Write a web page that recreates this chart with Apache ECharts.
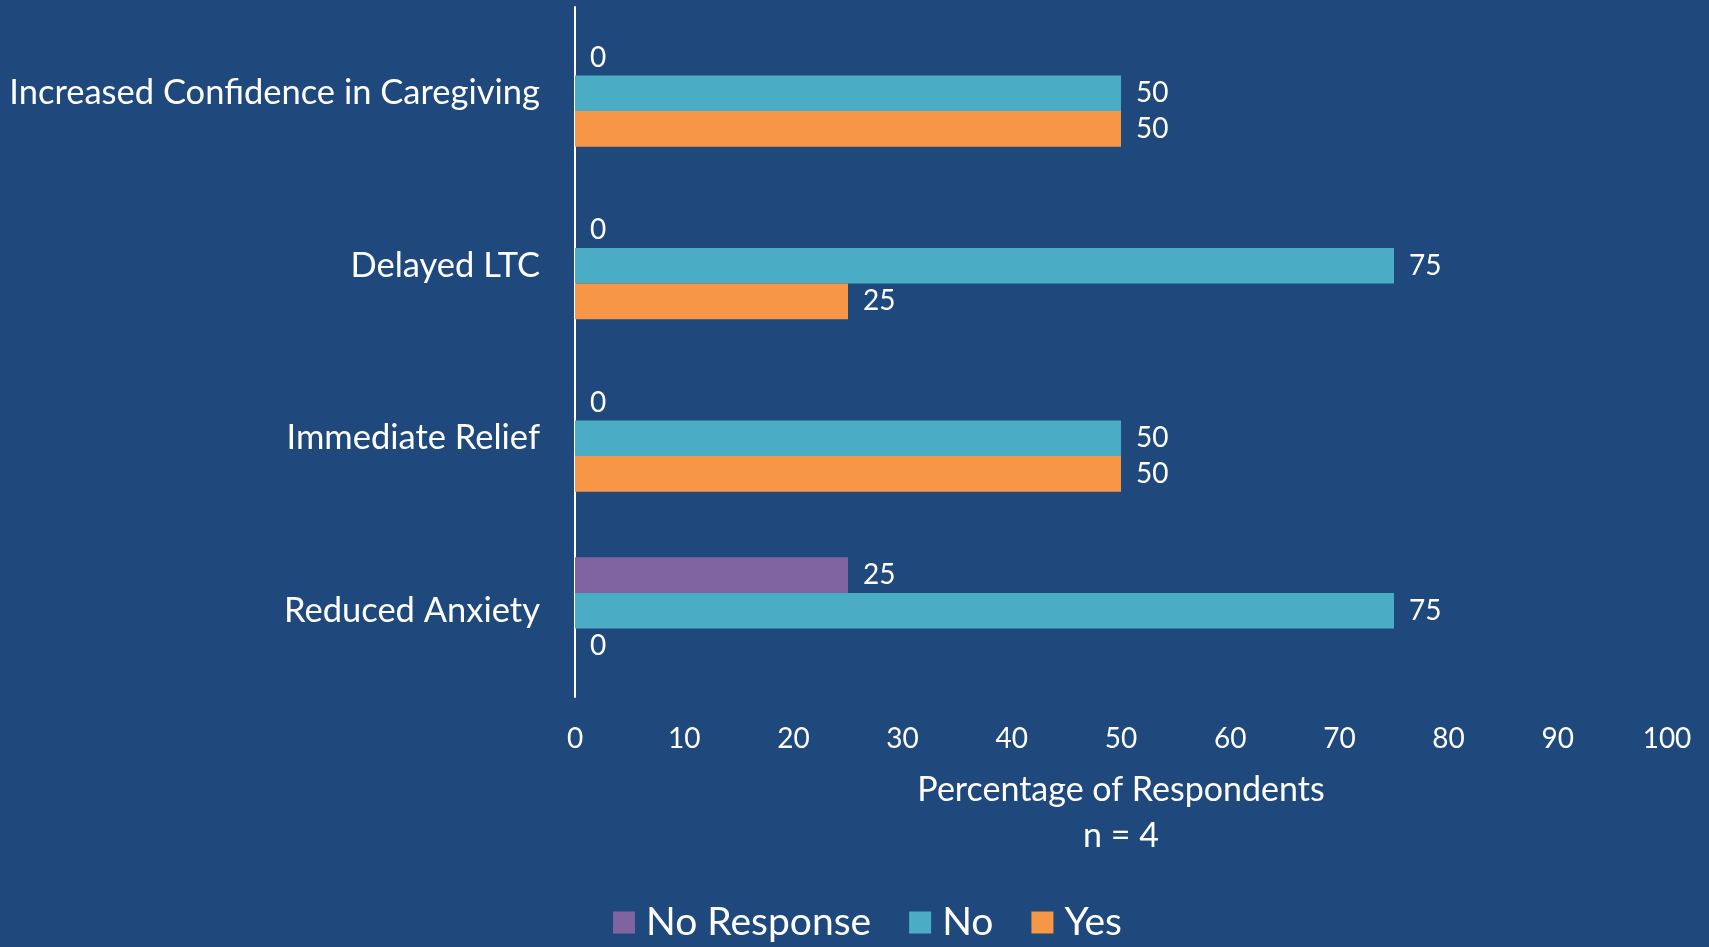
<!DOCTYPE html>
<html><head><meta charset="utf-8">
<script src="https://cdn.jsdelivr.net/npm/echarts@6/dist/echarts.min.js"></script>
<style>html,body{margin:0;padding:0;background:#1F497D;}#c{width:1709px;height:947px;}</style>
</head><body><div id="c"></div>
<script>
const categories = ['Reduced Anxiety', 'Immediate Relief', 'Delayed LTC', 'Increased Confidence in Caregiving'];
const noResponse = [25, 0, 0, 0];
const no = [75, 50, 75, 50];
const yes = [0, 50, 25, 50];
const xTicks = [0, 10, 20, 30, 40, 50, 60, 70, 80, 90, 100];
const FONT = 'Lato';
const lbl = {show: true, position: 'right', distance: 15, color: '#fff', fontFamily: FONT, fontSize: 28};
const chart = echarts.init(document.getElementById('c'));
chart.setOption({
  backgroundColor: '#1F497D',
  animation: false,
  textStyle: {fontFamily: FONT},
  grid: {left: 575, right: 42, top: 7, bottom: 250, containLabel: false},
  legend: {
    data: ['No Response', 'No', 'Yes'],
    bottom: 0, left: 608, itemWidth: 22, itemHeight: 22, itemGap: 38,
    icon: 'rect',
    textStyle: {color: '#fff', fontFamily: FONT, fontSize: 39, padding: [0, 0, 0, 6]}
  },
  xAxis: {
    type: 'value', min: xTicks[0], max: xTicks[xTicks.length - 1], interval: 10,
    axisLine: {show: false}, axisTick: {show: false}, splitLine: {show: false},
    axisLabel: {color: '#fff', fontFamily: FONT, fontSize: 28, margin: 28},
    name: 'Percentage of Respondents\nn = 4', nameLocation: 'middle', nameGap: 70,
    nameTextStyle: {color: '#fff', fontFamily: FONT, fontSize: 34, lineHeight: 46}
  },
  yAxis: {
    type: 'category', data: categories,
    axisLine: {show: true, lineStyle: {color: '#fff', width: 2}},
    axisTick: {show: false},
    axisLabel: {color: '#fff', fontFamily: FONT, fontSize: 34.5, margin: 35}
  },
  series: [
    {name: 'No Response', type: 'bar', data: noResponse, itemStyle: {color: '#8064A2'}, label: lbl, barGap: '0%', barCategoryGap: '38%'},
    {name: 'No', type: 'bar', data: no, itemStyle: {color: '#4BACC6'}, label: lbl, barGap: '0%', barCategoryGap: '38%'},
    {name: 'Yes', type: 'bar', data: yes, itemStyle: {color: '#F79646'}, label: lbl, barGap: '0%', barCategoryGap: '38%'}
  ]
});
</script></body></html>
